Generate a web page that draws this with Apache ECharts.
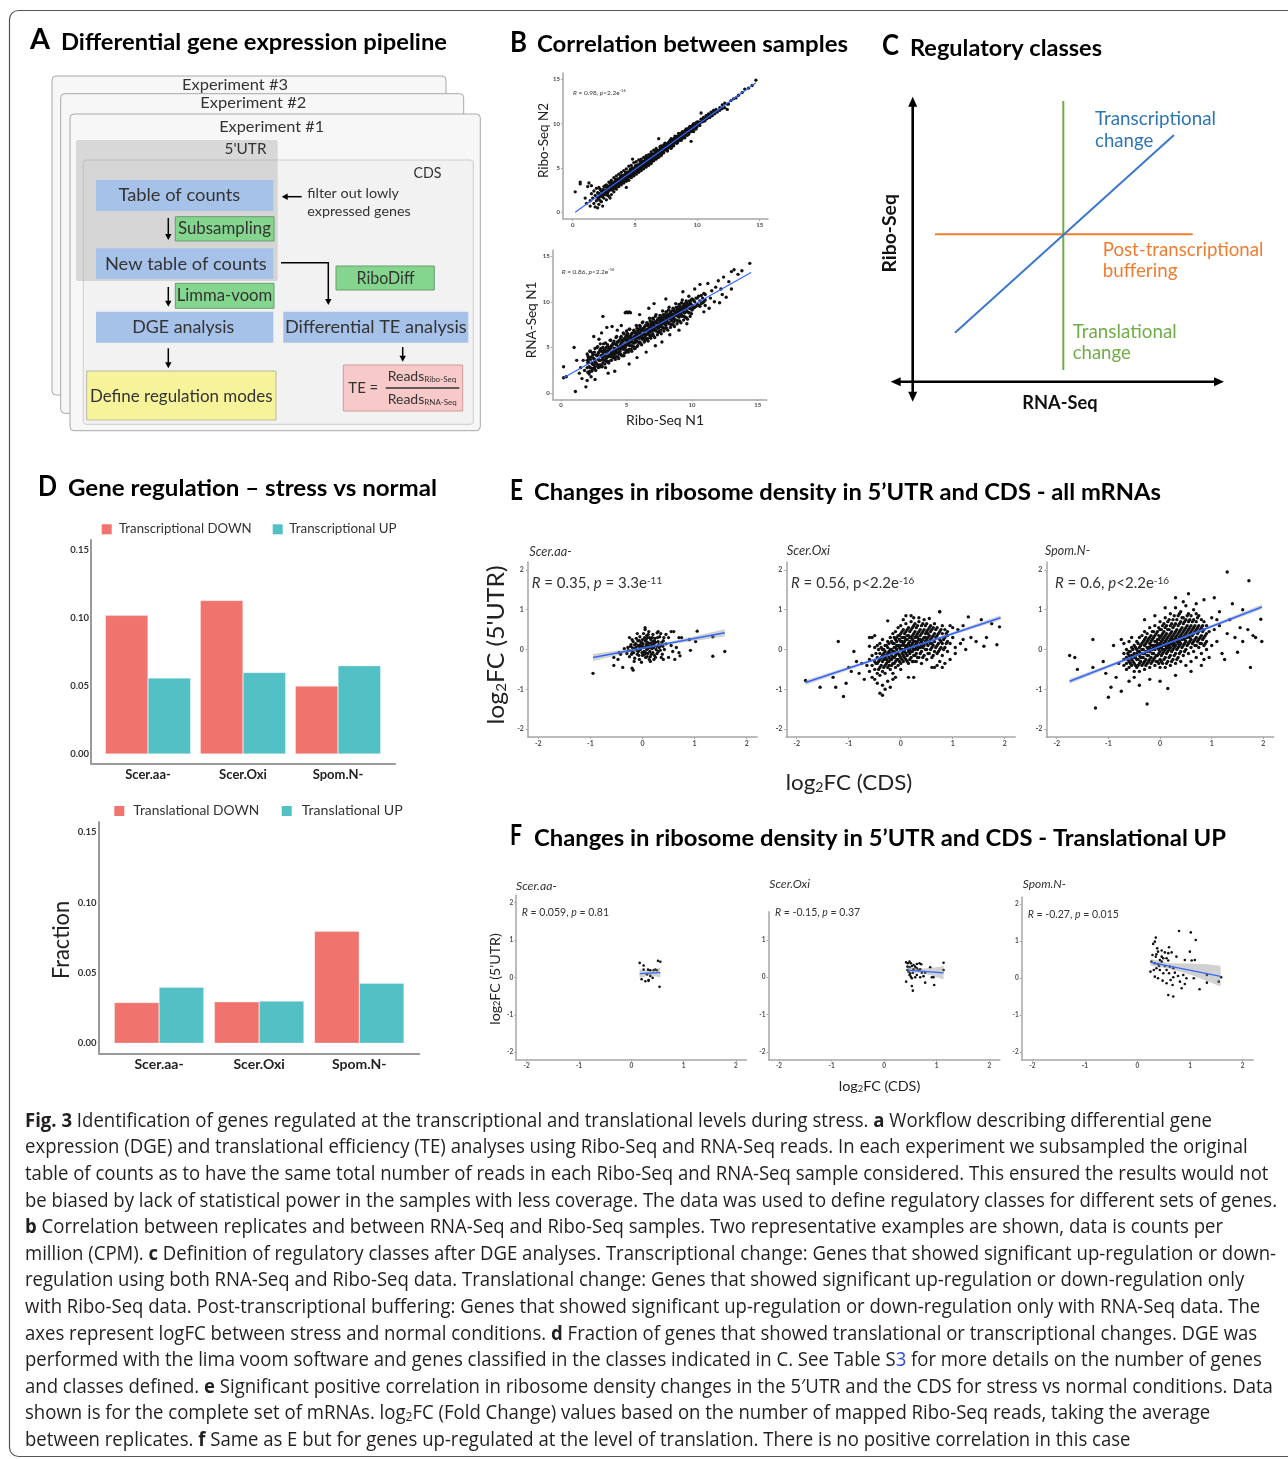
<!DOCTYPE html>
<html><head><meta charset="utf-8">
<script src="https://cdn.jsdelivr.net/npm/echarts@6/dist/echarts.min.js"></script>
<style>html,body{margin:0;padding:0;background:#fff}#c{width:1288px;height:1459px}</style>
</head><body><div id="c"></div>
<script>
// ---------------- DATA ----------------
const catsD = ['Scer.aa-', 'Scer.Oxi', 'Spom.N-'];
const transDown = [0.102, 0.113, 0.050];
const transUp = [0.056, 0.060, 0.065];
const tlDown = [0.029, 0.0295, 0.0796];
const tlUp = [0.0398, 0.030, 0.0427];

const ticksB = [0, 5, 10, 15];
const ticksE = [-2, -1, 0, 1, 2];
const ticksFOxiY = [-2, -1, 0, 1];
const ticksD = [0, 0.05, 0.10, 0.15];

// B top: Ribo-Seq N1 (x) vs Ribo-Seq N2 (y), rows [x, [y...]]
const bTopRows = [[0.2,[2.3]],[0.6,[3.2,3.4]],[1.0,[1.6]],[1.1,[1.0]],[1.2,[2.9]],[1.3,[3.3]],[1.4,[0.7,1.3]],[1.5,[2.1,3.0]],[1.6,[1.6]],[1.7,[1.0,2.4]],[1.8,[0.6,1.9]],[1.9,[1.3,2.7]],[2.0,[0.5,1.7,2.2]],
[2.1,[0.9,1.5,2.8]],[2.2,[2.0,2.6,1.3]],[2.3,[1.2,1.8,2.4]],[2.4,[0.7,2.3,1.9]],[2.5,[1.6,2.9,2.2]],[2.6,[2.0,2.5,3.0]],[2.7,[1.4,3.1,2.4]],[2.8,[2.2,2.7,1.9]],[2.9,[1.8,3.4,2.6]],[3.0,[2.5,3.0,1.6,3.3]],
[3.1,[2.0,3.6,2.9]],[3.2,[2.8,3.2,2.5]],[3.3,[2.3,3.9,3.1]],[3.4,[3.0,3.5,2.7]],[3.5,[2.6,4.1,3.4]],[3.6,[3.2,3.7,2.9]],[3.7,[2.9,4.3,3.5]],[3.8,[3.5,3.9,3.2]],[3.9,[3.1,4.5,3.8]],[4.0,[3.7,4.1,3.4]],
[4.1,[3.3,4.7,4.0]],[4.2,[3.9,4.3,3.6]],[4.3,[3.5,4.9,4.2,2.8]],[4.4,[4.1,4.5,3.8]],[4.5,[3.6,5.2,4.4]],[4.6,[4.3,4.8,4.0]],[4.7,[3.9,5.3,4.6]],[4.8,[4.5,5.0,4.2,6.0]],[4.9,[4.1,5.6,4.8]],[5.0,[4.7,5.1,4.4]],
[5.1,[4.3,5.7,5.0]],[5.2,[4.9,5.3,4.6]],[5.3,[4.5,5.9,5.2]],[5.4,[5.1,5.5,4.8]],[5.5,[4.7,6.0,5.4]],[5.6,[5.3,5.7,5.0]],[5.7,[4.9,6.2,5.6]],[5.8,[5.5,5.9,5.2]],[5.9,[5.1,6.4,5.8]],[6.0,[5.7,6.1,5.4]],
[6.1,[5.3,6.5,6.0]],[6.2,[5.9,6.3,5.6]],[6.3,[5.5,6.8,6.2]],[6.4,[6.1,6.5,5.8]],[6.5,[5.8,7.0,6.4]],[6.6,[6.3,6.7,6.0]],[6.7,[6.0,7.2,6.6]],[6.8,[6.5,6.9,6.2]],[6.9,[6.2,6.7,8.3]],[7.0,[6.7,7.1,7.4]],
[7.1,[6.4,7.5,6.9]],[7.2,[6.9,7.3,7.0]],[7.3,[6.7,7.2,7.6]],[7.4,[7.8,7.1,7.4]],[7.5,[7.1,7.4,7.7]],[7.6,[6.9,7.6,7.3]],[7.7,[7.9,7.4,7.6]],[7.8,[7.7,8.1,7.4]],[7.9,[7.2,8.3,7.8]],[8.0,[7.8,8.0,7.6]],
[8.1,[8.0,7.5,8.3]],[8.2,[8.6,8.1,7.9]],[8.3,[8.1,8.4,7.8]],[8.4,[8.3,7.8,8.6]],[8.5,[8.9,8.4,8.2]],[8.6,[8.4,8.7,8.1]],[8.7,[8.6,8.1,8.9]],[8.8,[9.1,8.7,8.5]],[8.9,[8.7,9.0,8.4]],[9.0,[8.9,8.4,9.2]],
[9.1,[9.4,9.0,8.8]],[9.2,[9.0,9.3,8.7]],[9.3,[9.2,8.8,9.5]],[9.4,[9.7,9.3,9.1]],[9.5,[9.3,8.0,9.5]],[9.6,[9.5,9.2,9.8]],[9.7,[9.1,10.0,9.6]],[9.8,[9.6,9.9,9.4]],[9.9,[9.8,9.4,10.1]],[10.0,[10.2,9.8,10.0]],
[10.1,[9.9,10.2]],[10.2,[10.1,9.8]],[10.3,[10.5,11.2,10.2]],[10.4,[10.2,10.5]],[10.5,[10.7,10.3]],[10.6,[10.3,10.6]],[10.7,[10.9,10.5]],[10.8,[10.6,10.9]],[10.9,[11.1,10.7]],[11.0,[10.7,11.0]],
[11.1,[11.3,10.9]],[11.2,[10.9,11.2]],[11.3,[11.5]],[11.4,[11.1,11.4]],[11.5,[11.6]],[11.6,[11.3]],[11.8,[11.8,11.5]],[12.0,[12.1,11.7]],[12.2,[11.8,12.3]],[12.4,[11.6,12.2]],[12.5,[12.2]],[12.7,[12.6]],[12.9,[12.8]],[13.1,[12.9]],[13.3,[13.2]],[13.6,[13.5]],[13.8,[13.9]],[14.1,[14.0]],[14.4,[14.3]],[14.7,[14.9]]];
const bTopRows2 = [[2.05,[1.55,2.15]],[2.15,[2.1,1.8]],[2.25,[2.0,2.5]],[2.35,[2.5,1.75]],[2.45,[1.95,2.55]],[2.55,[2.5,2.2]],[2.65,[2.4,2.9]],[2.75,[2.9,2.15]],[2.85,[2.35,2.95]],[2.95,[2.9,2.6]],
[3.05,[2.8,3.3]],[3.15,[3.3,2.55]],[3.25,[2.75,3.35]],[3.35,[3.3,3.0]],[3.45,[3.2,3.7]],[3.55,[3.7,2.95]],[3.65,[3.15,3.75]],[3.75,[3.7,3.4]],[3.85,[3.6,4.1]],[3.95,[4.1,3.35]],
[4.05,[3.55,4.15]],[4.15,[4.1,3.8]],[4.25,[4.0,4.5]],[4.35,[4.5,3.75]],[4.45,[3.95,4.55]],[4.55,[4.5,4.2]],[4.65,[4.4,4.9]],[4.75,[4.9,4.15]],[4.85,[4.35,4.95]],[4.95,[4.9,4.6]],
[5.05,[4.8,5.3]],[5.15,[5.3,4.55]],[5.25,[4.75,5.35]],[5.35,[5.3,5.0]],[5.45,[5.2,5.7]],[5.55,[5.7,4.95]],[5.65,[5.15,5.75]],[5.75,[5.7,5.4]],[5.85,[5.6,6.1]],[5.95,[6.1,5.35]],
[6.05,[5.55,6.15]],[6.15,[6.1,5.8]],[6.25,[6.0,6.5]],[6.35,[6.5,5.75]],[6.45,[5.95,6.55]],[6.55,[6.5,6.2]],[6.65,[6.4,6.9]],[6.75,[6.9,6.15]],[6.85,[6.35,6.95]],[6.95,[6.9,6.6]],
[7.05,[6.8,7.25]],[7.15,[7.3,6.6]],[7.25,[6.8,7.35]],[7.35,[7.3,7.0]],[7.45,[7.2,7.6]],[7.55,[7.7,7.0]],[7.65,[7.2,7.75]],[7.75,[7.7,7.4]],[7.85,[7.6,8.0]],[7.95,[8.1,7.4]],
[8.05,[7.6,8.15]],[8.15,[8.1,7.8]],[8.25,[8.0,8.4]],[8.35,[8.5,7.85]],[8.45,[8.0,8.55]],[8.55,[8.5,8.2]],[8.65,[8.4,8.8]],[8.75,[8.9,8.3]],[8.85,[8.45,8.95]],[8.95,[8.9,8.6]],
[9.05,[8.8,9.2]],[9.15,[9.25,8.7]],[9.25,[8.85,9.35]],[9.35,[9.3,9.0]],[9.45,[9.2,9.55]],[9.55,[9.65,9.1]],[9.65,[9.3,9.7]],[9.75,[9.7,9.45]],[9.85,[9.6,9.95]],[9.95,[10.0,9.6]]];

// B bottom: Ribo-Seq N1 (x) vs RNA-Seq N1 (y)
const bBotRows = [[2.0,[4.3,2.8,3.6]],[2.1,[3.4,3.9]],[2.2,[2.4,3.9,4.6]],[2.4,[3.2,4.4,2.6]],[2.5,[3.8,3.1]],[2.6,[4.9,3.5,2.9]],[2.8,[3.0,4.2,5.1]],[2.9,[4.5,3.6]],[3.0,[3.6,4.8,2.9,5.4]],[3.1,[4.1,3.0]],[3.2,[4.4,3.3,5.0,3.9]],[3.3,[4.7,4.1]],[3.4,[5.5,3.7,4.6,2.8]],[3.5,[3.9,4.4]],[3.6,[4.0,5.1,3.4,4.7]],[3.7,[4.8,4.1]],[3.8,[5.8,4.3,3.6,5.0]],[3.9,[4.0,5.2]],
[4.0,[4.6,3.9,5.5,4.2]],[4.1,[4.9,4.3]],[4.2,[5.3,4.0,6.1,4.7]],[4.3,[5.6,4.5]],[4.4,[4.4,5.7,3.8,5.1]],[4.5,[5.0,4.6]],[4.6,[6.2,4.9,4.2,5.5]],[4.7,[5.7,5.2]],[4.8,[5.0,5.9,4.1,6.5]],[4.9,[5.4,5.0]],[5.0,[5.3,4.5,6.3,5.8,6.8]],[5.1,[5.9,5.4,6.5]],[5.2,[6.1,4.8,5.5,7.0]],[5.3,[5.6,6.2]],[5.4,[5.2,6.5,4.6,5.9]],[5.5,[6.0,5.5]],[5.6,[6.8,5.5,6.2,4.9]],[5.7,[6.3,5.9]],[5.8,[5.7,7.1,6.4,5.1]],[5.9,[6.6,6.1]],
[6.0,[6.6,5.6,7.4,6.1]],[6.1,[6.8,6.3]],[6.2,[7.0,5.9,6.4,7.7]],[6.3,[7.1,6.5]],[6.4,[6.2,7.3,5.7,6.8]],[6.5,[6.9,6.4]],[6.6,[7.6,6.5,7.0,6.0]],[6.7,[7.3,6.8]],[6.8,[6.7,7.9,7.2,6.2]],[6.9,[7.1,7.5]],[7.0,[7.5,6.5,8.2,7.0]],[7.1,[7.6,7.1]],[7.2,[7.8,6.9,7.3,8.4]],[7.3,[7.8,7.3]],[7.4,[7.1,8.1,6.7,7.6]],[7.5,[7.5,8.0]],[7.6,[8.4,7.4,7.9,6.9]],[7.7,[8.1,7.7]],[7.8,[7.6,8.6,8.0,7.1]],[7.9,[8.3,7.8]],
[8.0,[8.3,7.4,8.9,7.9]],[8.1,[8.0,8.5]],[8.2,[8.6,7.7,8.2,9.1]],[8.3,[8.4,8.7]],[8.4,[7.9,8.9,7.5,8.4]],[8.5,[8.6,8.3]],[8.6,[9.2,8.2,8.6,7.8]],[8.7,[8.8,8.5]],[8.8,[8.5,9.4,8.9,8.0]],[8.9,[9.0,8.7]],[9.0,[9.1,8.3,9.7,8.7]],[9.1,[9.2,8.9]],[9.2,[9.4,8.6,9.0,9.9]],[9.3,[9.4,9.1]],[9.4,[8.8,9.7,8.4,9.2]],[9.5,[9.5,9.3]],[9.6,[9.9,9.0,9.5]],[9.7,[9.7]],[9.8,[9.3,10.1,8.8]],[9.9,[9.8]],
[10.0,[9.6,10.3,9.1]],[10.2,[10.0,9.4]],[10.4,[9.7,10.4]],[10.6,[10.1,9.5]],[10.8,[10.4,9.9]],[11.0,[10.2,10.8,9.6]]];
const bBotRows2 = [[2.05,[2.3,3.3,4.1]],[2.15,[2.9,3.8,2.1]],[2.25,[2.8,3.7,4.6]],[2.35,[2.4,3.3,4.0]],[2.45,[3.2,4.2,2.7]],[2.55,[2.7,3.7,4.5]],[2.65,[3.3,4.2,2.5]],[2.75,[3.2,4.1,5.0]],[2.85,[2.8,3.7,4.4]],[2.95,[3.6,4.6,3.1]],
[3.05,[3.1,4.1,4.9]],[3.15,[3.7,4.6,2.9]],[3.25,[3.6,4.5,5.4]],[3.35,[3.2,4.1,4.8]],[3.45,[4.0,5.0,3.5]],[3.55,[3.5,4.5,5.3]],[3.65,[4.1,5.0,3.3]],[3.75,[4.0,4.9,5.8]],[3.85,[3.6,4.5,5.2]],[3.95,[4.4,5.4,3.9]],
[4.05,[3.9,4.9,5.7]],[4.15,[4.5,5.4,3.7]],[4.25,[4.4,5.3,6.2]],[4.35,[4.0,4.9,5.6]],[4.45,[4.8,5.8,4.3]],[4.55,[4.3,5.3,6.1]],[4.65,[4.9,5.8,4.1]],[4.75,[4.8,5.7,6.6]],[4.85,[4.4,5.3,6.0]],[4.95,[5.2,6.2,4.7]],
[5.05,[4.7,5.7,6.5]],[5.15,[5.3,6.2,4.5]],[5.25,[5.2,6.1,7.0]],[5.35,[4.8,5.7,6.4]],[5.45,[5.6,6.6,5.1]],[5.55,[5.1,6.1,6.9]],[5.65,[5.7,6.6,4.9]],[5.75,[5.6,6.5,7.4]],[5.85,[5.2,6.1,6.8]],[5.95,[6.0,7.0,5.5]],
[6.05,[5.5,6.5,7.3]],[6.15,[6.1,7.0,5.3]],[6.25,[6.0,6.9,7.8]],[6.35,[5.6,6.5,7.2]],[6.45,[6.4,7.4,5.9]],[6.55,[5.9,6.9,7.7]],[6.65,[6.5,7.4,5.7]],[6.75,[6.4,7.3,8.2]],[6.85,[6.0,6.9,7.6]],[6.95,[6.8,7.8,6.3]],
[7.05,[6.3,7.3,8.1]],[7.15,[6.9,7.8,6.1]],[7.25,[6.8,7.7,8.6]],[7.35,[6.4,7.3,8.0]],[7.45,[7.2,8.2,6.7]],[7.55,[6.7,7.7,8.5]],[7.65,[7.3,8.2,6.5]],[7.75,[7.2,8.1,9.0]],[7.85,[6.8,7.7,8.4]],[7.95,[7.6,8.6,7.1]],
[8.05,[7.1,8.1,8.9]],[8.15,[7.7,8.6,6.9]],[8.25,[7.6,8.5,9.4]],[8.35,[7.2,8.1,8.8]],[8.45,[8.0,9.0,7.5]],[8.55,[7.5,8.5,9.3]],[8.65,[8.1,9.0,7.3]],[8.75,[8.0,8.9,9.8]],[8.85,[7.6,8.5,9.2]],[8.95,[8.4,9.4,7.9]],
[9.05,[7.9,8.9,9.7]],[9.15,[8.5,9.4,7.7]],[9.25,[8.4,9.3,10.2]],[9.35,[8.0,8.9,9.6]],[9.45,[8.8,9.8,8.3]],[9.55,[8.3,9.3,10.1]],[9.65,[8.9,9.8,8.1]],[9.75,[8.8,9.7,10.6]],[9.85,[8.4,9.3,10.0]],[9.95,[9.2,10.2,8.7]],
[10.1,[9.3,10.2]],[10.3,[9.5,10.4]],[10.5,[9.6,10.6]],[10.7,[9.8,10.7]],[10.9,[10.0,10.9]]];
const bBotOut = [[0.2,1.7],[0.2,2.9],[0.4,1.8],[1.0,5.0],[1.2,3.6],[1.1,0.2],[1.4,2.2],[1.5,2.8],[1.6,1.6],[1.8,2.5],[1.9,0.7],[2.0,1.4],[2.3,1.8],[2.6,1.5],[1.7,3.6],[2.5,6.2],[2.9,5.9],[3.1,6.6],[3.2,8.4],[3.5,7.2],[3.9,7.3],[4.3,6.9],[4.6,7.4],[4.9,8.8],[5.0,8.9],[5.1,8.8],[5.2,8.9],[5.3,8.8],[4.1,2.4],[3.6,2.2],[5.2,3.2],[5.8,3.9],[6.5,4.5],[7.2,5.2],[7.7,5.6],[8.3,6.4],[9.0,6.9],[9.6,7.6],[6.0,8.6],[6.7,9.3],[7.1,9.8],[8.0,10.3],[9.3,11.1],[10.2,11.4],[10.6,11.9],[11.2,12.0],[11.5,11.2],[11.8,11.6],[12.0,12.3],[12.2,11.4],[12.4,12.7],[12.8,12.2],[13.0,13.3],[13.2,13.5],[13.5,13.0],[13.8,13.4],[14.4,14.2],[11.4,10.4],[11.7,10.0],[12.3,10.8],[12.6,10.5],[13.0,11.4],[10.9,8.9],[11.3,9.3],[12.1,9.9]];

// E: log2FC(CDS) (x) vs log2FC(5'UTR) (y)
const eAaPts = [[-0.3,-0.1],[-0.28,0.05],[-0.25,-0.18],[-0.22,0.12],[-0.2,-0.05],[-0.18,0.2],[-0.15,-0.22],[-0.14,0.02],[-0.12,0.28],[-0.1,-0.12],[-0.08,0.1],[-0.06,-0.25],[-0.05,0.32],[-0.04,0.0],[-0.02,0.18],[0.0,-0.15],[0.0,0.08],[0.02,0.4],[0.03,-0.05],[0.05,0.22],[0.06,-0.2],[0.07,0.12],[0.08,0.0],[0.1,0.3],[0.1,-0.1],[0.12,0.16],[0.13,0.05],[0.15,-0.18],[0.16,0.25],[0.18,0.02],[0.2,0.38],[0.2,-0.08],[0.22,0.14],[0.24,0.28],[0.25,-0.2],[0.27,0.08],[0.3,0.2],[0.3,-0.05],[0.33,0.32],[0.35,0.1],[0.38,-0.12],[0.4,0.22],[0.42,0.0],[0.45,0.14],[-0.1,0.4],[0.05,0.5],[0.12,0.45],[-0.25,0.3],[-0.35,0.02],[0.15,-0.3],[-0.02,-0.32],[0.28,0.42],[0.08,0.35],[-0.16,-0.3],[0.22,-0.25],[0.36,-0.2],[0.0,0.25],[-0.08,-0.05],[0.18,0.1],[0.1,0.02],[-0.04,0.12],[0.06,-0.08],[0.14,0.3],[0.26,0.0],[-0.12,0.06],[0.02,0.05],[0.09,0.18],[-0.06,0.22],[0.2,0.2],[0.32,0.05],
[-0.27,-0.02],[-0.23,0.08],[-0.21,-0.12],[-0.19,0.04],[-0.17,-0.08],[-0.13,0.15],[-0.11,-0.02],[-0.09,0.22],[-0.07,-0.15],[-0.03,0.08],[-0.01,-0.08],[0.01,0.15],[0.04,-0.12],[0.04,0.3],[0.06,0.06],[0.09,-0.18],[0.11,0.1],[0.11,0.38],[0.14,-0.05],[0.16,0.16],[0.17,-0.12],[0.19,0.3],[0.21,0.05],[0.23,-0.15],[0.25,0.18],[0.28,-0.1],[0.29,0.3],[0.31,0.12],[0.34,-0.02],[0.37,0.18],[0.39,0.08],[0.41,0.3],[-0.15,0.12],[-0.05,0.05],[0.07,0.25],[0.17,0.07],[0.23,0.22],[-0.2,0.25],[0.13,-0.25],[0.35,0.4],
[-0.95,-0.6],[-0.55,-0.4],[-0.47,-0.25],[-0.42,-0.12],[-0.38,-0.45],[-0.2,-0.47],[-0.18,-0.52],[-0.55,-0.2],[0.05,0.55],[0.3,0.45],[0.55,0.45],[0.6,0.45],[0.55,0.1],[0.58,-0.05],[0.5,-0.2],[0.62,-0.25],[0.7,0.3],[0.7,-0.08],[0.72,-0.16],[0.75,0.3],[0.9,0.25],[0.92,-0.02],[1.05,0.46],[1.02,0.2],[1.35,0.32],[1.35,-0.17],[1.58,-0.05],[0.5,0.3],[0.45,0.38],[-0.45,-0.08],[0.65,0.05],[0.4,-0.25]];

const eOxiRows = [[-0.6,[-0.55,-0.25,0.3]],[-0.55,[-0.4,-0.15,-0.7]],[-0.5,[-0.5,-0.3,0.05,-0.75]],[-0.45,[-0.6,-0.2,-0.35,0.1]],[-0.4,[-0.45,-0.1,-0.25,-0.65,0.15]],[-0.35,[-0.55,-0.3,0.0,-0.15,0.25]],[-0.3,[-0.4,-0.2,0.1,-0.05,-0.6]],[-0.25,[-0.3,0.2,-0.1,-0.45,0.05,0.72]],[-0.2,[-0.5,-0.25,0.0,0.3,-0.1]],[-0.15,[-0.35,0.15,-0.05,0.4,-0.2,-0.6]],[-0.1,[-0.3,0.05,0.25,-0.15,0.45,-0.45]],[-0.05,[-0.4,-0.1,0.1,0.35,-0.25,0.55]],
[0.0,[-0.2,0.0,0.2,0.4,-0.35,0.6,-0.5]],[0.05,[-0.3,-0.05,0.15,0.3,0.5,-0.15]],[0.1,[-0.25,0.05,0.25,0.45,-0.1,0.65,0.85]],[0.15,[-0.35,-0.05,0.15,0.35,0.55,0.0,-0.7]],[0.2,[-0.2,0.1,0.3,0.5,-0.05,0.7]],[0.25,[-0.3,0.0,0.2,0.4,0.6,-0.15,0.8]],[0.3,[-0.1,0.15,0.35,0.55,0.05,-0.3]],[0.35,[-0.2,0.05,0.25,0.45,0.7,0.8]],[0.4,[-0.05,0.2,0.4,0.6,0.1,-0.35]],[0.45,[-0.15,0.1,0.3,0.5,0.75]],[0.5,[0.0,0.25,0.45,0.15,-0.25,0.65]],[0.55,[-0.1,0.2,0.35,0.55,0.78]],[0.6,[0.05,0.3,0.5,-0.2,0.15]],[0.65,[-0.05,0.2,0.4,0.65,-0.45]],[0.7,[0.1,0.35,0.55,-0.1,-0.4]],[0.75,[0.0,0.25,0.45,0.95,-0.3]],[0.8,[0.15,0.4,0.6,-0.15]],[0.85,[0.05,0.3,0.5,-0.35]],[0.9,[0.2,0.45,-0.05,0.35]]];
const eOxiRows2 = [[-0.475,[-0.35,-0.1]],[-0.425,[-0.3,0.0,-0.5]],[-0.375,[-0.4,-0.2,0.05]],[-0.325,[-0.25,-0.45,0.0,-0.1]],[-0.275,[-0.35,-0.15,0.1,-0.25]],[-0.225,[-0.3,-0.05,0.15,-0.4,-0.2]],[-0.175,[-0.25,0.0,0.2,-0.15,-0.4]],[-0.125,[-0.2,0.05,0.3,-0.05,-0.35,0.15]],[-0.075,[-0.25,0.0,0.2,0.1,-0.1,0.3]],[-0.025,[-0.15,0.05,0.25,-0.3,0.1,0.35]],
[0.025,[-0.1,0.1,0.3,-0.25,0.0,0.2,0.45]],[0.075,[-0.2,0.0,0.2,0.4,0.1,-0.05,0.3]],[0.125,[-0.15,0.05,0.25,0.1,0.35,-0.3,0.5]],[0.175,[-0.1,0.1,0.3,0.2,0.45,0.0,-0.25]],[0.225,[-0.05,0.15,0.35,0.05,0.25,0.55,-0.3]],[0.275,[-0.15,0.1,0.3,0.45,0.2,0.0,0.65]],[0.325,[0.0,0.2,0.4,0.1,0.3,-0.2,0.6]],[0.375,[-0.1,0.15,0.35,0.5,0.25,0.05]],[0.425,[0.05,0.25,0.45,0.15,-0.2,0.65]],[0.475,[0.0,0.2,0.4,0.3,0.6]],
[0.525,[0.1,0.3,0.5,-0.1,0.4]],[0.575,[0.0,0.25,0.45,0.15,0.6]],[0.625,[0.1,0.35,0.55,-0.15]],[0.675,[0.05,0.3,0.5]],[0.725,[0.15,0.4,-0.05]],[0.775,[0.2,0.5,0.05]],[0.825,[0.25,0.0]],[0.875,[0.15,0.4]]];
const eOxiOut = [[-1.83,-0.78],[-1.55,-0.95],[-1.3,-0.7],[-1.25,-0.95],[-1.2,0.2],[-1.1,-1.18],[-1.05,-0.85],[-1.0,-0.45],[-0.95,-0.55],[-0.85,-0.3],[-0.8,-0.6],[-0.75,-0.35],[-0.7,-0.75],[-0.65,-0.4],[-0.6,0.08],[-0.55,0.3],[-0.45,-0.85],[-0.4,-1.1],[-0.35,-1.15],[-0.35,-0.9],[-0.3,-1.0],[-0.25,-0.8],[-0.2,-0.95],[-0.15,-0.75],[-0.1,-0.7],[0.25,-0.7],[0.05,0.75],[0.2,0.85],[0.75,0.95],[0.95,0.6],[1.0,0.3],[1.05,0.05],[1.1,0.5],[1.15,0.15],[1.2,0.25],[1.25,0.0],[1.3,0.82],[1.35,0.3],[1.45,0.2],[1.55,0.75],[1.6,0.08],[1.65,0.3],[1.75,0.65],[1.85,0.12],[1.9,0.57],[0.95,-0.25],[1.05,-0.1],[0.8,-0.45],[0.6,-0.45],[1.2,0.6],[0.95,0.15],[1.0,0.55],[-0.5,0.35],[-0.9,-0.05]];

const eSpomRows = [[-0.7,[-0.4,-0.1,-0.25,0.15]],[-0.65,[-0.5,-0.2,0.0,-0.35]],[-0.6,[-0.3,-0.05,-0.45,0.2,-0.15]],[-0.55,[-0.4,-0.15,0.05,-0.25,0.3]],[-0.5,[-0.35,-0.1,0.1,-0.55,-0.2]],[-0.45,[-0.25,0.0,-0.45,0.2,-0.1]],[-0.4,[-0.35,-0.15,0.05,0.3,-0.55,-0.05]],[-0.35,[-0.2,0.0,0.15,-0.4,0.35,-0.1]],[-0.3,[-0.3,-0.1,0.1,0.25,-0.5,0.45]],[-0.25,[-0.15,0.05,0.2,-0.35,0.4,-0.05]],[-0.2,[-0.25,-0.05,0.15,0.3,-0.45,0.55,0.05]],[-0.15,[-0.1,0.1,0.25,-0.3,0.45,0.0]],[-0.1,[-0.2,0.0,0.2,0.35,-0.4,0.6,0.1]],[-0.05,[-0.15,0.05,0.25,0.45,-0.3,0.15]],
[0.0,[-0.25,-0.05,0.15,0.3,0.5,-0.45,0.7,0.05]],[0.05,[-0.1,0.1,0.25,0.4,-0.35,0.6,0.0]],[0.1,[-0.2,0.0,0.2,0.35,0.55,-0.45,0.8,0.1]],[0.15,[-0.05,0.15,0.3,0.5,-0.3,0.7,0.05]],[0.2,[-0.15,0.05,0.25,0.4,0.6,-0.4,0.9,0.15]],[0.25,[0.0,0.2,0.35,0.55,-0.25,0.75,0.1]],[0.3,[-0.1,0.1,0.3,0.45,0.65,-0.35,1.05]],[0.35,[0.05,0.25,0.4,0.6,-0.2,0.85,0.15]],[0.4,[-0.05,0.15,0.35,0.5,0.7,-0.3,0.95]],[0.45,[0.1,0.3,0.45,0.65,-0.15,0.8]],[0.5,[0.0,0.2,0.4,0.55,0.75,-0.4,1.1]],[0.55,[0.15,0.35,0.5,0.7,-0.1,0.9]],[0.6,[0.05,0.25,0.45,0.6,0.85,-0.3]],[0.65,[0.2,0.4,0.55,0.75,-0.05,1.0]],[0.7,[0.1,0.3,0.5,0.7,-0.2,0.9]],[0.75,[0.25,0.45,0.6,0.05,0.85]],[0.8,[0.15,0.35,0.55,-0.1,0.75]],[0.85,[0.3,0.5,0.1,0.7,-0.25]],[0.9,[0.2,0.4,0.6,0.0]]];
const eSpomRows2 = [[-0.625,[-0.25,-0.1]],[-0.575,[-0.35,-0.05,-0.2]],[-0.525,[-0.3,0.0,-0.15]],[-0.475,[-0.2,-0.4,0.05]],[-0.425,[-0.25,-0.05,0.15,-0.4]],[-0.375,[-0.3,-0.1,0.1,-0.2]],[-0.325,[-0.2,0.0,0.2,-0.35,-0.1]],[-0.275,[-0.25,-0.05,0.15,0.3,-0.4]],[-0.225,[-0.15,0.05,0.25,-0.3,0.0]],[-0.175,[-0.2,0.0,0.2,0.35,-0.35,0.1]],[-0.125,[-0.1,0.1,0.3,-0.25,0.05,0.45]],[-0.075,[-0.15,0.05,0.2,0.4,-0.3,0.1]],[-0.025,[-0.1,0.1,0.25,0.0,0.35,-0.35,0.55]],
[0.025,[-0.15,0.05,0.2,0.35,0.1,-0.3,0.5]],[0.075,[-0.05,0.15,0.3,0.0,0.45,-0.25,0.65]],[0.125,[-0.1,0.1,0.25,0.4,0.05,0.6,-0.35]],[0.175,[0.0,0.2,0.35,0.1,0.5,-0.2,0.75]],[0.225,[-0.05,0.15,0.3,0.45,0.25,0.65,-0.3]],[0.275,[0.05,0.25,0.4,0.15,0.6,-0.15,0.85]],[0.325,[0.0,0.2,0.35,0.5,0.25,0.75,-0.25]],[0.375,[0.1,0.3,0.45,0.2,0.65,-0.1,0.9]],[0.425,[0.05,0.25,0.4,0.55,0.3,0.8]],[0.475,[0.15,0.35,0.5,0.25,0.7,-0.05]],
[0.525,[0.1,0.3,0.45,0.6,0.85]],[0.575,[0.2,0.4,0.55,0.3,0.75]],[0.625,[0.15,0.35,0.5,0.7]],[0.675,[0.25,0.45,0.6,0.1]],[0.725,[0.2,0.4,0.55,0.8]],[0.775,[0.3,0.5,0.15]],[0.825,[0.25,0.45,0.6]],[0.875,[0.35,0.15]]];
const eSpomOut = [[1.3,1.95],[1.72,1.73],[-1.75,-0.15],[-1.65,-0.2],[-1.6,-0.5],[-1.3,0.25],[-1.25,-1.47],[-1.3,-0.45],[-1.1,-0.3],[-1.05,-0.6],[-1.0,-1.2],[-0.95,-0.95],[-0.9,0.1],[-0.85,-0.7],[-0.8,-0.35],[-0.75,-1.05],[-0.75,0.25],[-0.6,-0.8],[-0.5,-0.7],[-0.4,-0.9],[-0.25,-1.37],[-0.2,-0.75],[0.0,-0.8],[0.15,-0.98],[0.3,-0.65],[-0.3,0.75],[-0.1,0.85],[0.1,1.05],[0.3,1.3],[0.55,1.4],[0.45,1.2],[0.7,1.15],[0.85,1.25],[1.05,1.3],[1.15,0.95],[1.4,1.15],[1.6,1.0],[1.0,0.8],[1.05,0.5],[1.1,0.2],[1.15,0.6],[1.2,-0.1],[1.25,-0.25],[1.3,0.4],[1.35,0.75],[1.45,0.3],[1.5,-0.07],[1.55,0.55],[1.6,0.2],[1.7,0.5],[1.75,-0.45],[1.8,0.35],[1.85,0.3],[1.95,0.76],[1.97,0.2],[0.95,-0.2],[1.0,0.1],[0.95,0.45],[1.1,0.75],[0.6,-0.55],[0.8,-0.4]];

// F: Translational UP genes
const fAaPts = [[0.16,0.39],[0.235,0.32],[0.197,-0.045],[0.235,0.21],[0.268,-0.1],[0.30,0.08],[0.32,0.21],[0.33,-0.07],[0.363,0.195],[0.363,0.043],[0.408,-0.01],[0.427,0.195],[0.459,0.21],[0.49,0.195],[0.51,0.445],[0.555,0.42],[0.54,-0.25],[0.33,-0.09]];
const fOxiPts = [[0.419,0.40],[0.451,0.374],[0.483,0.418],[0.508,0.374],[0.444,0.284],[0.483,0.267],[0.527,0.302],[0.559,0.329],[0.59,0.284],[0.622,0.355],[0.673,0.374],[0.705,0.347],[0.464,0.15],[0.495,0.105],[0.546,0.12],[0.622,0.24],[0.654,0.195],[0.686,0.213],[0.717,0.12],[0.749,0.03],[0.78,0.12],[0.876,0.267],[0.908,0.0],[0.94,0.0],[1.13,0.39],[1.13,0.195],[0.419,-0.117],[0.508,0.017],[0.527,-0.027],[0.527,-0.232],[0.546,-0.357],[0.59,0.0],[0.686,0.0],[0.78,-0.143],[0.952,-0.205],[0.622,0.062],[0.483,0.062],[0.444,0.195],[0.559,0.213]];
const fSpomPts = [[0.79,1.28],[1.013,1.24],[1.108,1.035],[0.348,1.10],[0.33,0.99],[0.60,0.84],[0.995,0.72],[0.90,0.495],[1.03,0.48],[1.09,0.495],[0.298,0.93],[0.375,0.81],[0.39,0.72],[0.46,0.75],[0.52,0.70],[0.585,0.68],[0.65,0.70],[0.285,0.63],[0.348,0.585],[0.425,0.495],[0.49,0.54],[0.553,0.54],[0.585,0.48],[0.266,0.45],[0.33,0.405],[0.39,0.387],[0.46,0.45],[0.52,0.333],[0.615,0.315],[0.68,0.27],[0.247,0.18],[0.31,0.225],[0.36,0.27],[0.425,0.225],[0.49,0.135],[0.553,0.225],[0.60,0.135],[0.33,0.045],[0.39,0.0],[0.477,-0.063],[0.553,-0.135],[0.63,-0.045],[0.68,0.027],[0.667,-0.18],[0.807,-0.09],[0.84,-0.27],[0.90,-0.153],[0.585,-0.45],[0.68,-0.49],[1.07,0.0],[1.18,-0.297],[1.32,0.09],[1.32,-0.117],[1.545,-0.09],[1.59,0.027],[0.74,0.585],[0.36,0.65],[0.46,0.585],[0.41,0.333],[0.71,0.153],[0.77,0.063],[0.87,0.09],[0.93,0.0]];

// regression lines [x,y] endpoints and confidence bands [x, lo, hi]
const lineBTop = [[0.2,0.0],[14.7,14.6]];
const lineBBot = [[0.2,1.7],[14.5,13.2]];
const lineEAa = [[-0.95,-0.2],[1.58,0.42]];
const bandEAa = [[-0.95,-0.29,-0.11],[0.0,0.005,0.06],[0.5,0.12,0.19],[1.58,0.33,0.51]];
const lineEOxi = [[-1.83,-0.83],[1.92,0.8]];
const bandEOxi = [[-1.83,-0.89,-0.77],[0.1,-0.01,0.03],[1.92,0.74,0.86]];
const lineESpom = [[-1.75,-0.8],[1.97,1.07]];
const bandESpom = [[-1.75,-0.86,-0.74],[0.1,0.11,0.15],[1.97,1.01,1.13]];
const lineFAa = [[0.16,0.105],[0.555,0.13]];
const bandFAa = [[0.16,-0.02,0.23],[0.36,0.06,0.17],[0.555,0.0,0.27]];
const lineFOxi = [[0.44,0.19],[1.13,0.12]];
const bandFOxi = [[0.44,0.1,0.28],[0.65,0.12,0.23],[0.9,0.05,0.25],[1.13,-0.06,0.3]];
const lineFSpom = [[0.25,0.43],[1.58,0.05]];
const bandFSpom = [[0.25,0.34,0.52],[0.6,0.26,0.41],[1.0,0.1,0.4],[1.3,-0.06,0.38],[1.58,-0.22,0.34]];

// caption lines
const capLines = [
 '{b|Fig. 3} Identification of genes regulated at the transcriptional and translational levels during stress. {b|a} Workflow describing differential gene',
 'expression (DGE) and translational efficiency (TE) analyses using Ribo-Seq and RNA-Seq reads. In each experiment we subsampled the original',
 'table of counts as to have the same total number of reads in each Ribo-Seq and RNA-Seq sample considered. This ensured the results would not',
 'be biased by lack of statistical power in the samples with less coverage. The data was used to define regulatory classes for different sets of genes.',
 '{b|b} Correlation between replicates and between RNA-Seq and Ribo-Seq samples. Two representative examples are shown, data is counts per',
 'million (CPM). {b|c} Definition of regulatory classes after DGE analyses. Transcriptional change: Genes that showed significant up-regulation or down-',
 'regulation using both RNA-Seq and Ribo-Seq data. Translational change: Genes that showed significant up-regulation or down-regulation only',
 'with Ribo-Seq data. Post-transcriptional buffering: Genes that showed significant up-regulation or down-regulation only with RNA-Seq data. The',
 'axes represent logFC between stress and normal conditions. {b|d} Fraction of genes that showed translational or transcriptional changes. DGE was',
 'performed with the lima voom software and genes classified in the classes indicated in C. See Table S{u|3} for more details on the number of genes',
 'and classes defined. {b|e} Significant positive correlation in ribosome density changes in the 5\u2032UTR and the CDS for stress vs normal conditions. Data',
 'shown is for the complete set of mRNAs. log{s|2}FC (Fold Change) values based on the number of mapped Ribo-Seq reads, taking the average',
 'between replicates. {b|f} Same as E but for genes up-regulated at the level of translation. There is no positive correlation in this case'
];

// ---------------- HELPERS ----------------
function rows2pts(rows){ const o=[]; rows.forEach(r=>r[1].forEach(y=>o.push([r[0],y]))); return o; }
const mctx = document.createElement('canvas').getContext('2d');
function measure(text, size, weight, family, style){
  mctx.font = (style||'normal')+' '+(weight||'normal')+' '+size+'px '+family;
  return mctx.measureText(text).width;
}
function T(x, y, text, o){
  const fam = o.family || 'Lato';
  let sx = 1;
  if (o.w) sx = o.w / measure(o.plain || text, o.size, o.weight, fam, o.style);
  const al = o.align || 'left';
  return {type:'text', x:x, y:y, rotation:o.rot||0, scaleX:sx, silent:true, z:10,
    style:{text:text, fontSize:o.size, fontFamily:fam, fontWeight:o.weight||'normal', fontStyle:o.style||'normal',
      fill:o.color||'#222', align:al, textAlign:al, verticalAlign:'middle', textVerticalAlign:'middle', rich:o.rich}};
}
function rect(x,y,w,h,fill,stroke,r,lw){
  return {type:'rect', shape:{x:x,y:y,width:w,height:h,r:r||0}, silent:true,
    style:{fill:fill, stroke:stroke||null, lineWidth:lw||1}};
}
function seg(x1,y1,x2,y2,color,lw){
  return {type:'line', shape:{x1:x1,y1:y1,x2:x2,y2:y2}, silent:true, style:{stroke:color||'#000', lineWidth:lw||1.5}};
}
function head(tx,ty,dx,dy,len,half,color){
  const px=-dy, py=dx;
  return {type:'polygon', silent:true, shape:{points:[[tx,ty],[tx-dx*len+px*half,ty-dy*len+py*half],[tx-dx*len-px*half,ty-dy*len-py*half]]}, style:{fill:color||'#000'}};
}
function arrow(x1,y1,x2,y2,len,half,lw){
  const L=Math.hypot(x2-x1,y2-y1), dx=(x2-x1)/L, dy=(y2-y1)/L;
  return [seg(x1,y1,x2-dx*len*0.6,y2-dy*len*0.6,'#000',lw), head(x2,y2,dx,dy,len,half)];
}
function richR(size){
  const base = {fontSize:size, fontFamily:'Lato', fill:'#333'};
  return {
    i: Object.assign({}, base, {fontStyle:'italic'}),
    n: Object.assign({}, base),
    s: Object.assign({}, base, {fontSize:Math.round(size*0.68), verticalAlign:'top'})
  };
}

// ---------------- GRIDS / AXES ----------------
const grids = [
  {left:563, top:73, width:205, height:146},        // 0 B top
  {left:552.7, top:250, width:214, height:149.3},   // 1 B bottom
  {left:91, top:540, width:304, height:223.3},      // 2 D top
  {left:99, top:822, width:320.3, height:231.3},    // 3 D bottom
  {left:527.9, top:562, width:229.2, height:175},   // 4 E aa
  {left:786.3, top:562, width:228.8, height:175},   // 5 E Oxi
  {left:1046.4, top:562, width:227.3, height:175},  // 6 E Spom
  {left:516.2, top:895.2, width:230.2, height:164.6}, // 7 F aa
  {left:768.5, top:911.85, width:231.3, height:147.7}, // 8 F Oxi
  {left:1021.8, top:896.9, width:231.4, height:162.8}  // 9 F Spom
];
function vAxis(gi, min, max, ticks, o){
  return {type:'value', gridIndex:gi, min:min, max:max, scale:false,
    splitLine:{show:false},
    axisLine:{show:true, onZero:false, lineStyle:{color:o.lc||'#a6a6a6', width:o.lw||1.5}},
    axisTick:{show:!!o.tick, length:o.tick||0, customValues:ticks, lineStyle:{color:o.lc||'#a6a6a6', width:1}},
    axisLabel:{customValues:ticks, fontSize:o.fs, fontWeight:'bold', color:o.fc||'#4d4d4d', margin:o.m, fontFamily:'Lato', formatter:o.fmt}};
}
const intFmt = v => String(Math.round(v));
const xAxes = [
  vAxis(0, -0.78, 15.67, ticksB, {fs:6, m:3, tick:2, fmt:intFmt}),
  vAxis(1, -0.63, 15.69, ticksB, {fs:6, m:3, tick:2, fmt:intFmt}),
  vAxis(2, -0.6, 2.6, [0,1,2], {fs:13, m:5, tick:0, lc:'#9a9a9a', lw:2, fc:'#222', fmt:v=>catsD[Math.round(v)]}),
  vAxis(3, -0.6, 2.6, [0,1,2], {fs:14, m:4, tick:0, lc:'#9a9a9a', lw:2, fc:'#222', fmt:v=>catsD[Math.round(v)]}),
  vAxis(4, -2.2, 2.2, ticksE, {fs:7, m:3, tick:2, fmt:intFmt}),
  vAxis(5, -2.2, 2.2, ticksE, {fs:7, m:3, tick:2, fmt:intFmt}),
  vAxis(6, -2.2, 2.2, ticksE, {fs:7, m:3, tick:2, fmt:intFmt}),
  vAxis(7, -2.2, 2.2, ticksE, {fs:6.5, m:3, tick:2, fmt:intFmt}),
  vAxis(8, -2.2, 2.2, ticksE, {fs:6.5, m:3, tick:2, fmt:intFmt}),
  vAxis(9, -2.2, 2.2, ticksE, {fs:6.5, m:3, tick:2, fmt:intFmt})
];
const yAxes = [
  vAxis(0, -0.76, 15.71, ticksB, {fs:6, m:3, tick:2, fmt:intFmt}),
  vAxis(1, -0.66, 15.66, ticksB, {fs:6, m:3, tick:2, fmt:intFmt}),
  vAxis(2, -0.0068, 0.1574, ticksD, {fs:9.5, m:2, tick:0, lc:'#9a9a9a', lw:2, fc:'#333', fmt:v=>v.toFixed(2)}),
  vAxis(3, -0.0071, 0.1573, ticksD, {fs:9.5, m:2.5, tick:0, lc:'#9a9a9a', lw:2, fc:'#333', fmt:v=>v.toFixed(2)}),
  vAxis(4, -2.2, 2.2, ticksE, {fs:7, m:4, tick:2, fmt:intFmt}),
  vAxis(5, -2.2, 2.2, ticksE, {fs:7, m:4, tick:2, fmt:intFmt}),
  vAxis(6, -2.2, 2.2, ticksE, {fs:7, m:4, tick:2, fmt:intFmt}),
  vAxis(7, -2.2, 2.2, ticksE, {fs:6.5, m:3, tick:2, fmt:intFmt}),
  vAxis(8, -2.2, 1.75, ticksFOxiY, {fs:6.5, m:3, tick:2, fmt:intFmt}),
  vAxis(9, -2.2, 2.2, ticksE, {fs:6.5, m:3, tick:2, fmt:intFmt})
];

// ---------------- SERIES ----------------
const series = [];
function scat(gi, data, size){
  series.push({type:'scatter', xAxisIndex:gi, yAxisIndex:gi, data:data, symbolSize:size, itemStyle:{color:'#111', opacity:1}, silent:true, z:3});
}
function band(gi, b){
  series.push({type:'custom', xAxisIndex:gi, yAxisIndex:gi, data:b, silent:true, z:4, encode:{x:0, y:[1,2]},
    renderItem:function(params, api){
      if (params.dataIndex !== 0) return null;
      const up = b.map(p=>api.coord([p[0], p[2]]));
      const lo = b.slice().reverse().map(p=>api.coord([p[0], p[1]]));
      return {type:'polygon', shape:{points:up.concat(lo)}, style:{fill:'rgba(140,140,140,0.4)'}};
    }});
}
function fitLine(gi, d, w){
  series.push({type:'line', xAxisIndex:gi, yAxisIndex:gi, data:d, symbol:'none', silent:true, z:5,
    lineStyle:{color:'#3366ff', width:w||1.6}});
}
scat(0, rows2pts(bTopRows).concat(rows2pts(bTopRows2)), 3.3); fitLine(0, lineBTop, 1.2);
scat(1, rows2pts(bBotRows).concat(rows2pts(bBotRows2), bBotOut), 3.4); fitLine(1, lineBBot, 1.2);
function bars(gi, vals, color, bw, name){
  series.push({type:'bar', name:name, xAxisIndex:gi, yAxisIndex:gi, data:vals.map((v,i)=>[i,v]), barWidth:bw, barGap:'0%',
    itemStyle:{color:color, borderColor:'rgba(255,255,255,0.6)', borderWidth:0.5}, silent:true});
}
bars(2, transDown, '#F0746D', 42.7, 'Transcriptional DOWN');
bars(2, transUp, '#52C0C5', 42.7, 'Transcriptional UP');
bars(3, tlDown, '#F0746D', 44.8, 'Translational DOWN');
bars(3, tlUp, '#52C0C5', 44.8, 'Translational UP');
scat(4, eAaPts, 3.3); band(4, bandEAa); fitLine(4, lineEAa);
scat(5, rows2pts(eOxiRows).concat(rows2pts(eOxiRows2), eOxiOut), 3.4); band(5, bandEOxi); fitLine(5, lineEOxi);
scat(6, rows2pts(eSpomRows).concat(rows2pts(eSpomRows2), eSpomOut), 3.4); band(6, bandESpom); fitLine(6, lineESpom);
scat(7, fAaPts, 2.6); band(7, bandFAa); fitLine(7, lineFAa, 1.3);
scat(8, fOxiPts, 2.6); band(8, bandFOxi); fitLine(8, lineFOxi, 1.3);
scat(9, fSpomPts, 2.6); band(9, bandFSpom); fitLine(9, lineFSpom, 1.3);

// ---------------- GRAPHICS ----------------
const G = [];
G.push({type:'rect', shape:{x:9.5, y:10.5, width:1300, height:1446, r:9}, silent:true, style:{fill:'none', stroke:'#555', lineWidth:1.2}});

const TB = {size:23, weight:'bold', color:'#000'};
const TL = {size:28, weight:'bold', color:'#000'};
G.push(T(30, 40, 'A', Object.assign({w:20}, TL)));
G.push(T(61, 42.5, 'Differential gene expression pipeline', Object.assign({w:386}, TB)));
G.push(T(510, 43, 'B', Object.assign({w:17}, TL)));
G.push(T(537, 45, 'Correlation between samples', Object.assign({w:311}, TB)));
G.push(T(882, 46, 'C', Object.assign({w:17}, TL)));
G.push(T(910, 49, 'Regulatory classes', Object.assign({w:192}, TB)));
G.push(T(38, 487, 'D', Object.assign({w:19}, TL)));
G.push(T(68, 488.5, 'Gene regulation \u2013 stress vs normal', Object.assign({w:369}, TB)));
G.push(T(510, 491, 'E', Object.assign({w:13}, TL)));
G.push(T(534, 493, 'Changes in ribosome density in 5\u2019UTR and CDS - all mRNAs', Object.assign({w:627}, TB)));
G.push(T(510, 836, 'F', Object.assign({w:12}, TL)));
G.push(T(534, 838.5, 'Changes in ribosome density in 5\u2019UTR and CDS - Translational UP', Object.assign({w:692}, TB)));

// ---- Panel A diagram ----
G.push(rect(52, 76, 394, 319, '#f7f7f7', '#a8a8a8', 4));
G.push(rect(60.7, 93.7, 403, 319.6, '#f7f7f7', '#a8a8a8', 4));
G.push(rect(70, 114, 410.3, 316.7, '#f7f7f7', '#a8a8a8', 4));
G.push(rect(83.3, 160, 390, 264.3, '#f2f2f2', '#cdcdcd', 3));
G.push(rect(76, 140, 201.7, 141, 'rgba(165,165,165,0.38)', null, 2));
const AT = {size:16, color:'#333', align:'center'};
G.push(T(235, 85, 'Experiment #3', Object.assign({}, AT, {w:106})));
G.push(T(253.3, 103.3, 'Experiment #2', Object.assign({}, AT, {w:106})));
G.push(T(271.7, 126.7, 'Experiment #1', Object.assign({}, AT, {w:105})));
G.push(T(245.5, 149.3, "5'UTR", Object.assign({}, AT, {w:42})));
G.push(T(427.5, 172.7, 'CDS', Object.assign({}, AT, {w:28, size:15})));
const BLUE = '#a6c2e9', GREEN = '#84d68e';
G.push(rect(96, 180, 177.3, 31, BLUE));
G.push(rect(175.3, 216.7, 98.7, 24.3, GREEN, '#6a9c6e', 0, 1));
G.push(rect(96, 248.3, 177.3, 30.7, BLUE));
G.push(rect(336, 266, 98.3, 24, GREEN, '#6a9c6e', 0, 1));
G.push(rect(175.3, 283.3, 98.7, 25, GREEN, '#6a9c6e', 0, 1));
G.push(rect(96, 311.7, 177.3, 31, BLUE));
G.push(rect(283.3, 311.7, 185, 31, BLUE));
G.push(rect(86.7, 371, 189.3, 49, '#f6f39b', '#b8b8a2', 0, 1));
G.push(rect(343.3, 365, 119.4, 46, '#f7c9c9', '#cf9c9c', 0, 1));
G.push(T(179.3, 195.5, 'Table of counts', Object.assign({}, AT, {w:121.7, size:18})));
G.push(T(224.5, 229, 'Subsampling', Object.assign({}, AT, {w:93, size:16.5})));
G.push(T(185.8, 264, 'New table of counts', Object.assign({}, AT, {w:161.7, size:18})));
G.push(T(385.6, 278.3, 'RiboDiff', Object.assign({}, AT, {w:58, size:16.5})));
G.push(T(224.5, 296, 'Limma-voom', Object.assign({}, AT, {w:95.7, size:16.5})));
G.push(T(183.3, 327.5, 'DGE analysis', Object.assign({}, AT, {w:102, size:18})));
G.push(T(375.8, 327.5, 'Differential TE analysis', Object.assign({}, AT, {w:181.7, size:18})));
G.push(T(181.3, 396, 'Define regulation modes', Object.assign({}, AT, {w:182.7, size:17.5})));
G.push(T(307.3, 193.3, 'filter out lowly', {size:14, color:'#333', w:91.7}));
G.push(T(307.3, 211.7, 'expressed genes', {size:14, color:'#333', w:103.4}));
G.push(T(348.3, 388, 'TE =', {size:15, color:'#333', w:30}));
const readsRich = {r:{fontSize:14, fontFamily:'Lato', fill:'#333'}, s:{fontSize:8, fontFamily:'Lato', fill:'#333', verticalAlign:'bottom'}};
G.push(T(387.7, 376, '{r|Reads}{s|Ribo-Seq}', {size:14, color:'#333', rich:readsRich}));
G.push(T(387.7, 399.5, '{r|Reads}{s|RNA-Seq}', {size:14, color:'#333', rich:readsRich}));
G.push(seg(385.7, 388, 459.3, 388, '#333', 1.3));
[].concat(
  arrow(301.7, 196.7, 281.7, 196.7, 6, 3.2, 1.5),
  arrow(168.3, 218, 168.3, 240, 6, 3.2, 1.5),
  arrow(168.3, 287, 168.3, 306.7, 6, 3.2, 1.5),
  [seg(281, 262.7, 328.3, 262.7, '#000', 1.5)],
  arrow(328.3, 262, 328.3, 305, 6, 3.2, 1.5),
  arrow(168.3, 348.3, 168.3, 368.3, 6, 3.2, 1.5),
  arrow(402.7, 347, 402.7, 361.7, 6, 3.2, 1.5)
).forEach(e=>G.push(e));

// ---- Panel B texts ----
G.push(T(573, 92.7, '{i|R}{n| = 0.98, }{i|p}{n|<2.2e}{s|-16}', {size:6.5, color:'#333', rich:richR(6.5)}));
G.push(T(561.7, 271.7, '{i|R}{n| = 0.86, }{i|p}{n|<2.2e}{s|-16}', {size:6.5, color:'#333', rich:richR(6.5)}));
G.push(T(543, 140.5, 'Ribo-Seq N2', {size:14, color:'#222', align:'center', rot:Math.PI/2, w:75}));
G.push(T(531, 320, 'RNA-Seq N1', {size:14, color:'#222', align:'center', rot:Math.PI/2, w:76.7}));
G.push(T(665, 420.5, 'Ribo-Seq N1', {size:14, color:'#222', align:'center', w:78}));

// ---- Panel C diagram ----
G.push(seg(912.7, 104, 912.7, 395, '#000', 2.6));
G.push(head(912.7, 96.7, 0, -1, 10, 4.5));
G.push(head(912.7, 401.7, 0, 1, 10, 4.5));
G.push(seg(897, 381.7, 1217, 381.7, '#000', 2.6));
G.push(head(890.7, 381.7, -1, 0, 10, 4.5));
G.push(head(1224, 381.7, 1, 0, 10, 4.5));
G.push(seg(1063.3, 101, 1063.3, 370, '#70ad47', 2));
G.push(seg(935, 234.3, 1192.7, 234.3, '#ed7d31', 2));
G.push(seg(955, 332.7, 1174, 135, '#3b78c9', 2));
G.push(T(1095, 119.3, 'Transcriptional', {size:19, color:'#2e75b6', w:121}));
G.push(T(1095, 140.7, 'change', {size:19, color:'#2e75b6', w:58.3}));
G.push(T(1102.7, 250, 'Post-transcriptional', {size:19, color:'#ed7d31', w:160.7}));
G.push(T(1102.7, 270.7, 'buffering', {size:19, color:'#ed7d31', w:74.7}));
G.push(T(1072.7, 331.7, 'Translational', {size:19, color:'#70ad47', w:104}));
G.push(T(1072.7, 352.7, 'change', {size:19, color:'#70ad47', w:58}));
G.push(T(890, 233.3, 'Ribo-Seq', {size:19, weight:'bold', color:'#111', align:'center', rot:Math.PI/2, w:78.3}));
G.push(T(1060, 403.3, 'RNA-Seq', {size:19, weight:'bold', color:'#111', align:'center', w:75.3}));

// ---- Panel D legends / title ----
G.push(rect(101.7, 524.3, 10, 10, '#F0746D'));
G.push(T(119, 529.3, 'Transcriptional DOWN', {size:13, color:'#333', w:132.7}));
G.push(rect(272.7, 524.3, 10, 10, '#52C0C5'));
G.push(T(289.3, 529.3, 'Transcriptional UP', {size:13, color:'#333', w:107.3}));
G.push(rect(114.3, 806, 10, 10, '#F0746D'));
G.push(T(133.3, 811, 'Translational DOWN', {size:13, color:'#333', w:126}));
G.push(rect(281.7, 806, 10, 10, '#52C0C5'));
G.push(T(301.7, 811, 'Translational UP', {size:13, color:'#333', w:101}));
G.push(T(61.7, 940, 'Fraction', {size:24, color:'#222', align:'center', rot:Math.PI/2, w:78}));

// ---- Panel E texts ----
const subRich = (sz)=>({a:{fontSize:sz, fontFamily:'Lato', fill:'#222'}, s:{fontSize:Math.round(sz*0.62), fontFamily:'Lato', fill:'#222', verticalAlign:'bottom'}});
G.push(T(529.3, 551.7, 'Scer.aa-', {size:13, style:'italic', color:'#333', w:42.3}));
G.push(T(786.7, 551, 'Scer.Oxi', {size:13, style:'italic', color:'#333', w:43.3}));
G.push(T(1045, 551, 'Spom.N-', {size:13, style:'italic', color:'#333', w:45}));
G.push(T(531.7, 583.3, '{i|R}{n| = 0.35, }{i|p}{n| = 3.3e}{s|-11}', {size:15, color:'#333', rich:richR(15)}));
G.push(T(791, 583.3, '{i|R}{n| = 0.56, p<2.2e}{s|-16}', {size:15, color:'#333', rich:richR(15)}));
G.push(T(1055, 583.3, '{i|R}{n| = 0.6, }{i|p}{n|<2.2e}{s|-16}', {size:15, color:'#333', rich:richR(15)}));
G.push(T(497, 645, "{a|log}{s|2}{a|FC (5'UTR)}", {size:23, color:'#222', align:'center', rot:Math.PI/2, w:150, plain:"logFC (5'UTR)", rich:subRich(23)}));
G.push(T(849, 783, '{a|log}{s|2}{a|FC (CDS)}', {size:22, color:'#222', align:'center', w:118, plain:'logFC (CDS)', rich:subRich(22)}));

// ---- Panel F texts ----
G.push(T(516, 886, 'Scer.aa-', {size:11, style:'italic', color:'#333', w:40.7}));
G.push(T(769.3, 884.3, 'Scer.Oxi', {size:11, style:'italic', color:'#333', w:40.7}));
G.push(T(1022.7, 884, 'Spom.N-', {size:11, style:'italic', color:'#333', w:43.3}));
G.push(T(521.7, 912.3, '{i|R}{n| = 0.059, }{i|p}{n| = 0.81}', {size:10.5, color:'#333', rich:richR(10.5)}));
G.push(T(775, 912.3, '{i|R}{n| = -0.15, }{i|p}{n| = 0.37}', {size:10.5, color:'#333', rich:richR(10.5)}));
G.push(T(1027.7, 914.3, '{i|R}{n| = -0.27, }{i|p}{n| = 0.015}', {size:10.5, color:'#333', rich:richR(10.5)}));
G.push(T(495, 979, "{a|log}{s|2}{a|FC (5'UTR)}", {size:14, color:'#222', align:'center', rot:Math.PI/2, w:86, plain:"logFC (5'UTR)", rich:subRich(14)}));
G.push(T(879.5, 1086.5, '{a|log}{s|2}{a|FC (CDS)}', {size:14, color:'#222', align:'center', w:76, plain:'logFC (CDS)', rich:subRich(14)}));

// ---- Caption ----
const capFam = 'Open Sans', capSize = 20;
const capScale = 1252 / measure(capLines[3], capSize, 'normal', capFam);
const capRich = {
  b:{fontSize:capSize, fontFamily:capFam, fontWeight:'bold', fill:'#231f20'},
  u:{fontSize:capSize, fontFamily:capFam, fill:'#2a4fd6'},
  s:{fontSize:13, fontFamily:capFam, fill:'#231f20', verticalAlign:'bottom'}
};
capLines.forEach((t,i)=>{
  G.push({type:'text', x:25, y:1121 + i*26.6, scaleX:capScale, silent:true, z:10,
    style:{text:t, fontSize:capSize, fontFamily:capFam, fill:'#231f20', align:'left', textAlign:'left',
      verticalAlign:'middle', textVerticalAlign:'middle', rich:capRich}});
});

// ---------------- CHART ----------------
const chart = echarts.init(document.getElementById('c'), null, {renderer:'canvas', width:1288, height:1459});
chart.setOption({
  animation:false,
  backgroundColor:'#ffffff',
  grid:grids,
  xAxis:xAxes,
  yAxis:yAxes,
  series:series,
  graphic:{elements:G}
});
</script>
</body></html>
